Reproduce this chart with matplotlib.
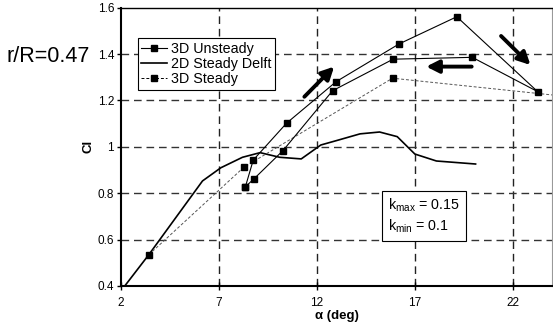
import matplotlib
matplotlib.use('Agg')
import matplotlib.pyplot as plt

plt.rcParams['font.family'] = ['Liberation Sans', 'DejaVu Sans']
plt.rcParams['mathtext.fontset'] = 'custom'
plt.rcParams['mathtext.rm'] = 'Liberation Sans'

# 3D unsteady hysteresis loop (upstroke then downstroke, closed)
unsteady_alpha = [8.35, 8.75, 10.45, 12.98, 16.2, 19.14, 23.27, 19.93, 15.89, 12.8, 10.27, 8.8, 8.35]
unsteady_cl = [0.828, 0.943, 1.102, 1.281, 1.444, 1.561, 1.238, 1.386, 1.378, 1.242, 0.984, 0.863, 0.828]

# 2D steady Delft airfoil data
delft_alpha = [2.1, 3.42, 6.16, 7.1, 8.2, 9.1, 10.1, 11.2, 12.2, 13.0, 14.2, 15.2, 16.1, 17.0, 18.1, 20.1]
delft_cl = [0.39, 0.535, 0.853, 0.91, 0.955, 0.975, 0.955, 0.948, 1.008, 1.027, 1.056, 1.064, 1.044, 0.969, 0.939, 0.926]

# 3D steady
steady_alpha = [3.42, 8.27, 15.86, 25.0]
steady_cl = [0.535, 0.912, 1.296, 1.215]

x_ticks = [2, 7, 12, 17, 22]
y_ticks = [0.4, 0.6, 0.8, 1.0, 1.2, 1.4, 1.6]

fig = plt.figure(figsize=(5.53, 3.32), dpi=100)
ax = fig.add_axes([121 / 553, 1 - 286 / 332, 431 / 553, 278.3 / 332])

ax.set_xlim(2, 24)
ax.set_ylim(0.4, 1.6)
ax.set_xticks(x_ticks)
ax.set_yticks(y_ticks)
ax.set_yticklabels(['0.4', '0.6', '0.8', '1', '1.2', '1.4', '1.6'])

for xv in x_ticks[1:]:
    ax.axvline(xv, color='#222222', lw=1.0, ls=(0, (5.5, 3.5)), zorder=1)
for yv in y_ticks[1:-1]:
    ax.axhline(yv, color='#333333', lw=1.0, ls=(0, (5.5, 3.5)), zorder=1)

ax.plot(unsteady_alpha, unsteady_cl, color='black', lw=0.8, marker='s', ms=4,
        label='3D Unsteady', zorder=4)
ax.plot(delft_alpha, delft_cl, color='black', lw=1.2, label='2D Steady Delft', zorder=3)
ax.plot(steady_alpha, steady_cl, color='#555555', lw=0.7, ls=(0, (3, 2)), marker='s', ms=4,
        mfc='black', mec='black', label='3D Steady', zorder=3)

# loop direction arrows
arrow_kw = dict(arrowstyle='-|>,head_length=0.75,head_width=0.38', lw=2.8, color='black',
                shrinkA=0, shrinkB=0)
ax.annotate('', xy=(12.88, 1.346), xytext=(11.36, 1.216), arrowprops=arrow_kw, zorder=5)
ax.annotate('', xy=(17.58, 1.346), xytext=(19.9, 1.346), arrowprops=arrow_kw, zorder=5)
ax.annotate('', xy=(22.9, 1.353), xytext=(21.4, 1.478), arrowprops=arrow_kw, zorder=5)

leg = ax.legend(loc='upper left', bbox_to_anchor=(0.039, 0.891), borderaxespad=0,
                fontsize=10.3, fancybox=False, framealpha=1, edgecolor='black',
                handlelength=1.8, handletextpad=0.3, labelspacing=0.1, borderpad=0.25)
leg.get_frame().set_linewidth(0.8)
leg.get_lines()[2].set_color('black')

ax.text(0.62, 0.183, 'k$_{\\mathrm{max}}$ = 0.15\nk$_{\\mathrm{min}}$ = 0.1', transform=ax.transAxes,
        fontsize=10.3, va='bottom', ha='left', linespacing=1.25, zorder=6,
        bbox=dict(boxstyle='square,pad=0.4', fc='white', ec='black', lw=0.8))

for side in ['left', 'bottom']:
    ax.spines[side].set_linewidth(1.5)
ax.spines['top'].set_linewidth(1.0)
ax.spines['right'].set_color('#999999')
ax.spines['right'].set_linewidth(0.8)

ax.tick_params(axis='x', direction='inout', length=6, width=1, labelsize=8.5, pad=5)
ax.tick_params(axis='y', direction='out', length=3, width=1, labelsize=8.5, pad=2)

ax.set_xlabel('α (deg)', fontsize=9.5, fontweight='bold', labelpad=1)
ax.set_ylabel('Cl', fontsize=9.5, fontweight='bold', labelpad=2)

fig.text(7 / 553, 1 - 56 / 332, 'r/R=0.47', fontsize=15.5, va='center', ha='left')

fig.savefig('out.png', dpi=100)
